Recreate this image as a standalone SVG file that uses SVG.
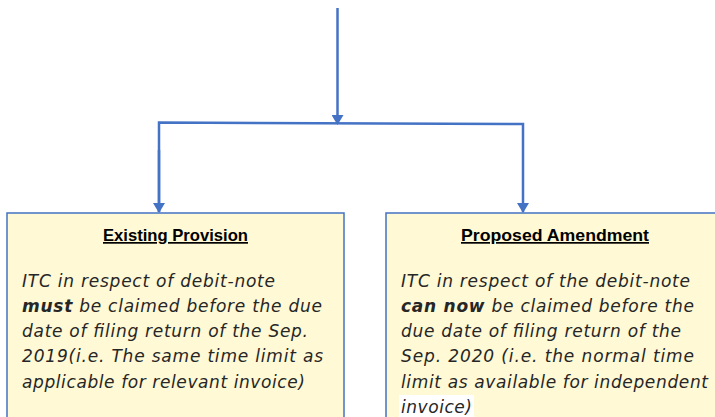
<svg xmlns="http://www.w3.org/2000/svg" width="715" height="417" viewBox="0 0 715 417">
<style>
.box{fill:#FFF9D5;stroke:#4472C4;stroke-width:1.5}
.conn{stroke:#4472C4;stroke-width:2.5;fill:none}
.title{font-family:"Liberation Sans",Arial,sans-serif;font-weight:bold;font-size:17px;fill:#000;text-decoration:underline}
.body{font-family:"DejaVu Sans",Verdana,sans-serif;font-style:italic;font-size:17px;fill:#262626}
.b{font-weight:bold}
</style>
<defs>
<marker id="ah" markerWidth="12" markerHeight="12" viewBox="0 0 10 12" refX="9" refY="6" orient="auto" markerUnits="userSpaceOnUse">
<path d="M0,0 L10,6 L0,12 z" fill="#4472C4"/>
</marker>
</defs>
<rect width="715" height="417" fill="#fff"/>
<g id="connectors">
<path class="conn" d="M337.5,8 V124" marker-end="url(#ah)"/>
<path class="conn" d="M159,212 V122.5 L523,124 V212" marker-end="url(#ah)"/>
<path class="conn" d="M159,150 V212" marker-end="url(#ah)"/>
</g>
<g id="existing">
<rect class="box" x="7" y="213" width="337" height="210"/>
<text class="title" x="103" y="241" textLength="145" lengthAdjust="spacingAndGlyphs">Existing Provision</text>
<text class="body" x="22" y="287" textLength="253" lengthAdjust="spacing">ITC in respect of debit-note</text>
<text class="body" x="22" y="312" textLength="300" lengthAdjust="spacing"><tspan class="b">must</tspan> be claimed before the due</text>
<text class="body" x="22" y="337" textLength="286" lengthAdjust="spacing">date of filing return of the Sep.</text>
<text class="body" x="22" y="362" textLength="301" lengthAdjust="spacing">2019(i.e. The same time limit as</text>
<text class="body" x="22" y="388" textLength="283" lengthAdjust="spacing">applicable for relevant invoice)</text>
</g>
<g id="proposed">
<rect class="box" x="386" y="213" width="340" height="210"/>
<rect x="399" y="395" width="75" height="22" fill="#fff"/>
<text class="title" x="461" y="241" textLength="188" lengthAdjust="spacingAndGlyphs">Proposed Amendment</text>
<text class="body" x="401" y="287" textLength="289" lengthAdjust="spacing">ITC in respect of the debit-note</text>
<text class="body" x="401" y="312" textLength="293" lengthAdjust="spacing"><tspan class="b">can now</tspan> be claimed before the</text>
<text class="body" x="401" y="337" textLength="280" lengthAdjust="spacing">due date of filing return of the</text>
<text class="body" x="401" y="362" textLength="293" lengthAdjust="spacing">Sep. 2020 (i.e. the normal time</text>
<text class="body" x="401" y="388" textLength="307" lengthAdjust="spacing">limit as available for independent</text>
<text class="body" x="401" y="413" textLength="71" lengthAdjust="spacing">invoice)</text>
</g>
</svg>
